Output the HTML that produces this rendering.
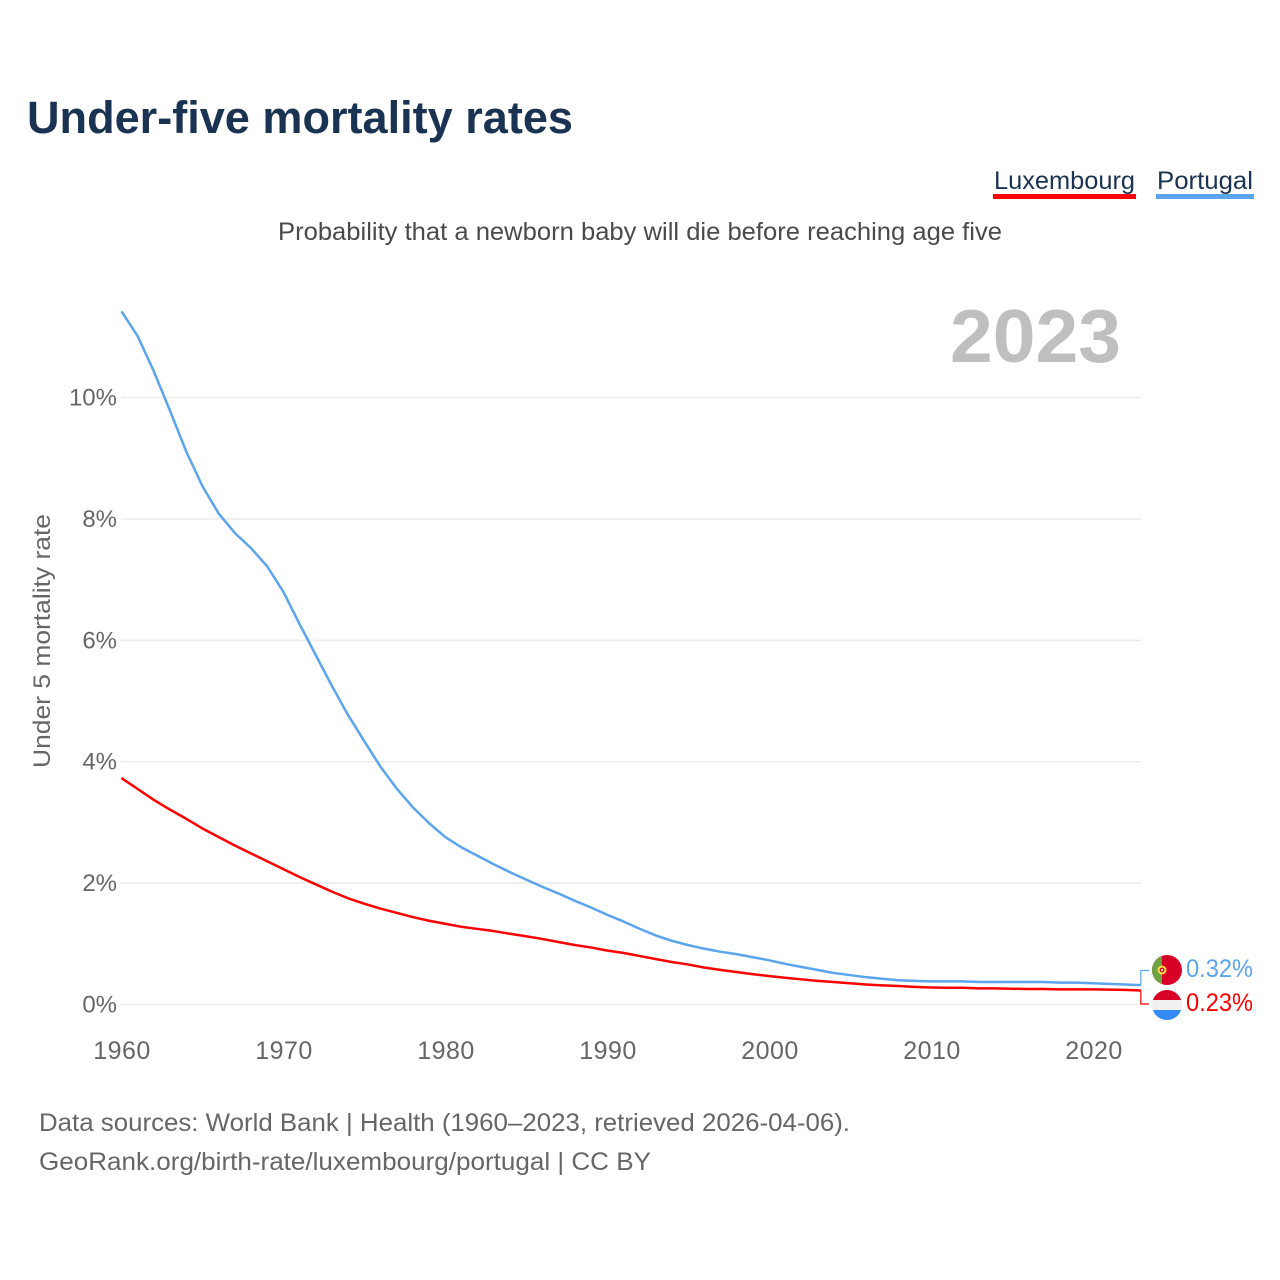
<!DOCTYPE html>
<html lang="en">
<head>
<meta charset="utf-8">
<title>Under-five mortality rates</title>
<style>
html,body{margin:0;padding:0;background:#fff;width:1280px;height:1280px;overflow:hidden}
svg{display:block;font-family:"Liberation Sans",sans-serif}
</style>
</head>
<body>
<svg id="chart" width="1280" height="1280" viewBox="0 0 1280 1280" xmlns="http://www.w3.org/2000/svg">
  <rect width="1280" height="1280" fill="#fff"/>
  <text x="27" y="133" font-size="45" font-weight="700" fill="#1a3352" textLength="546" lengthAdjust="spacingAndGlyphs">Under-five mortality rates</text>

  <g>
    <text x="994" y="189" font-size="25" fill="#1a3352" textLength="141" lengthAdjust="spacingAndGlyphs">Luxembourg</text>
    <rect x="993" y="194" width="143" height="5" fill="#ff0000"/>
  </g>
  <g>
    <text x="1157" y="189" font-size="25" fill="#1a3352" textLength="96" lengthAdjust="spacingAndGlyphs">Portugal</text>
    <rect x="1156" y="194" width="98" height="5" fill="#5ba4ee"/>
  </g>

  <text x="278" y="240" font-size="25" fill="#4a4a4a" textLength="724" lengthAdjust="spacingAndGlyphs">Probability that a newborn baby will die before reaching age five</text>

  <text x="950" y="362" font-size="75" font-weight="700" fill="#bfbfbf" textLength="171" lengthAdjust="spacingAndGlyphs">2023</text>

  <text transform="translate(50,768) rotate(-90)" font-size="24" fill="#666" textLength="254" lengthAdjust="spacingAndGlyphs">Under 5 mortality rate</text>

  <g id="grid"></g>
  <g id="yticks"></g>
  <g id="xticks"></g>
  <g id="series"></g>
  <g id="leaders"></g>

  <defs>
    <clipPath id="clip-pt"><circle cx="1167" cy="970" r="15"/></clipPath>
    <clipPath id="clip-lu"><circle cx="1167" cy="1005" r="15"/></clipPath>
  </defs>
  <g clip-path="url(#clip-pt)">
    <rect x="1152" y="955" width="30" height="30" fill="#d80027"/>
    <rect x="1152" y="955" width="10" height="30" fill="#6da544"/>
    <circle cx="1162" cy="970" r="4.5" fill="#ffda44"/>
    <circle cx="1162" cy="970" r="2.4" fill="#d80027"/>
    <circle cx="1162" cy="970" r="1.1" fill="#f0f0f0"/>
  </g>
  <g clip-path="url(#clip-lu)">
    <rect x="1152" y="990" width="30" height="10" fill="#d80027"/>
    <rect x="1152" y="1000" width="30" height="10" fill="#f0f0f0"/>
    <rect x="1152" y="1010" width="30" height="10" fill="#338af3"/>
  </g>
  <text id="label-pt" x="1186" y="977" font-size="25" fill="#5ba4ee" textLength="67" lengthAdjust="spacingAndGlyphs"></text>
  <text id="label-lu" x="1186" y="1011" font-size="25" fill="#ff0000" textLength="67" lengthAdjust="spacingAndGlyphs"></text>

  <text x="39" y="1131" font-size="25" fill="#666" textLength="811" lengthAdjust="spacingAndGlyphs">Data sources: World Bank | Health (1960–2023, retrieved 2026-04-06).</text>
  <text x="39" y="1170" font-size="25" fill="#666" textLength="612" lengthAdjust="spacingAndGlyphs">GeoRank.org/birth-rate/luxembourg/portugal | CC BY</text>
</svg>
<script>
const startYear = 1960;
const portugal = [11.42,11.01,10.43,9.78,9.11,8.54,8.09,7.77,7.52,7.22,6.80,6.27,5.76,5.25,4.77,4.34,3.92,3.56,3.25,2.99,2.76,2.59,2.45,2.31,2.18,2.06,1.94,1.83,1.71,1.60,1.48,1.37,1.25,1.14,1.05,0.98,0.92,0.87,0.83,0.78,0.73,0.67,0.62,0.57,0.52,0.485,0.45,0.425,0.40,0.39,0.38,0.38,0.38,0.37,0.37,0.37,0.37,0.37,0.36,0.36,0.35,0.34,0.33,0.32];
const luxembourg = [3.73,3.55,3.37,3.21,3.06,2.90,2.76,2.62,2.49,2.36,2.23,2.10,1.98,1.86,1.75,1.66,1.58,1.51,1.44,1.38,1.33,1.28,1.245,1.21,1.165,1.125,1.08,1.03,0.98,0.94,0.89,0.85,0.80,0.75,0.70,0.66,0.61,0.57,0.535,0.50,0.47,0.44,0.415,0.39,0.37,0.35,0.33,0.315,0.305,0.29,0.28,0.275,0.275,0.265,0.265,0.26,0.255,0.255,0.25,0.25,0.25,0.245,0.24,0.23];
const yTicks = [0,2,4,6,8,10];
const xTicks = [1960,1970,1980,1990,2000,2010,2020];

const NS = 'http://www.w3.org/2000/svg';
const xScale = year => 121.5 + (year - 1960) * 16.18;
const xTickScale = year => 122 + (year - 1960) * 16.2;
const yScale = value => 1004.5 - value * 60.7;
const seriesPath = values => values.map((v, i) => (i ? 'L' : 'M') + xScale(startYear + i).toFixed(2) + ' ' + yScale(v).toFixed(2)).join(' ');
const make = (tag, attrs) => {
  const el = document.createElementNS(NS, tag);
  for (const k in attrs) el.setAttribute(k, attrs[k]);
  return el;
};

yTicks.forEach(t => {
  const line = make('line', {x1: 121, x2: 1141, y1: yScale(t), y2: yScale(t), stroke: '#ececec', 'stroke-width': 1.6});
  
  
  document.getElementById('grid').appendChild(line);
  const label = make('text', {x: 117, y: yScale(t) + 8, 'text-anchor': 'end', 'font-size': 24, fill: '#666'});
  
  
  label.textContent = t + '%';
  document.getElementById('yticks').appendChild(label);
});

xTicks.forEach(t => {
  const label = make('text', {x: xTickScale(t), y: 1059, 'text-anchor': 'middle', 'font-size': 25, 'letter-spacing': 0.5, fill: '#666'});
  
  
  label.textContent = t;
  document.getElementById('xticks').appendChild(label);
});

const ptLine = make('path', {d: seriesPath(portugal), fill: 'none', stroke: '#5ba4ee', 'stroke-width': 2.5, 'stroke-linejoin': 'round'});


document.getElementById('series').appendChild(ptLine);

const luLine = make('path', {d: seriesPath(luxembourg), fill: 'none', stroke: '#ff0000', 'stroke-width': 2.5, 'stroke-linejoin': 'round'});


document.getElementById('series').appendChild(luLine);

const lastPt = portugal[portugal.length - 1];
const lastLu = luxembourg[luxembourg.length - 1];
const endX = xScale(startYear + portugal.length - 1);

const ptLeader = make('path', {d: 'M' + endX + ' ' + yScale(lastPt) + ' V970.5 H1149', fill: 'none', stroke: '#5ba4ee', 'stroke-width': 1.2});


document.getElementById('leaders').appendChild(ptLeader);

const luLeader = make('path', {d: 'M' + endX + ' ' + yScale(lastLu) + ' V1004 H1149', fill: 'none', stroke: '#ff0000', 'stroke-width': 1.2});


document.getElementById('leaders').appendChild(luLeader);

document.getElementById('label-pt').textContent = lastPt.toFixed(2) + '%';
document.getElementById('label-lu').textContent = lastLu.toFixed(2) + '%';
</script>
</body>
</html>
